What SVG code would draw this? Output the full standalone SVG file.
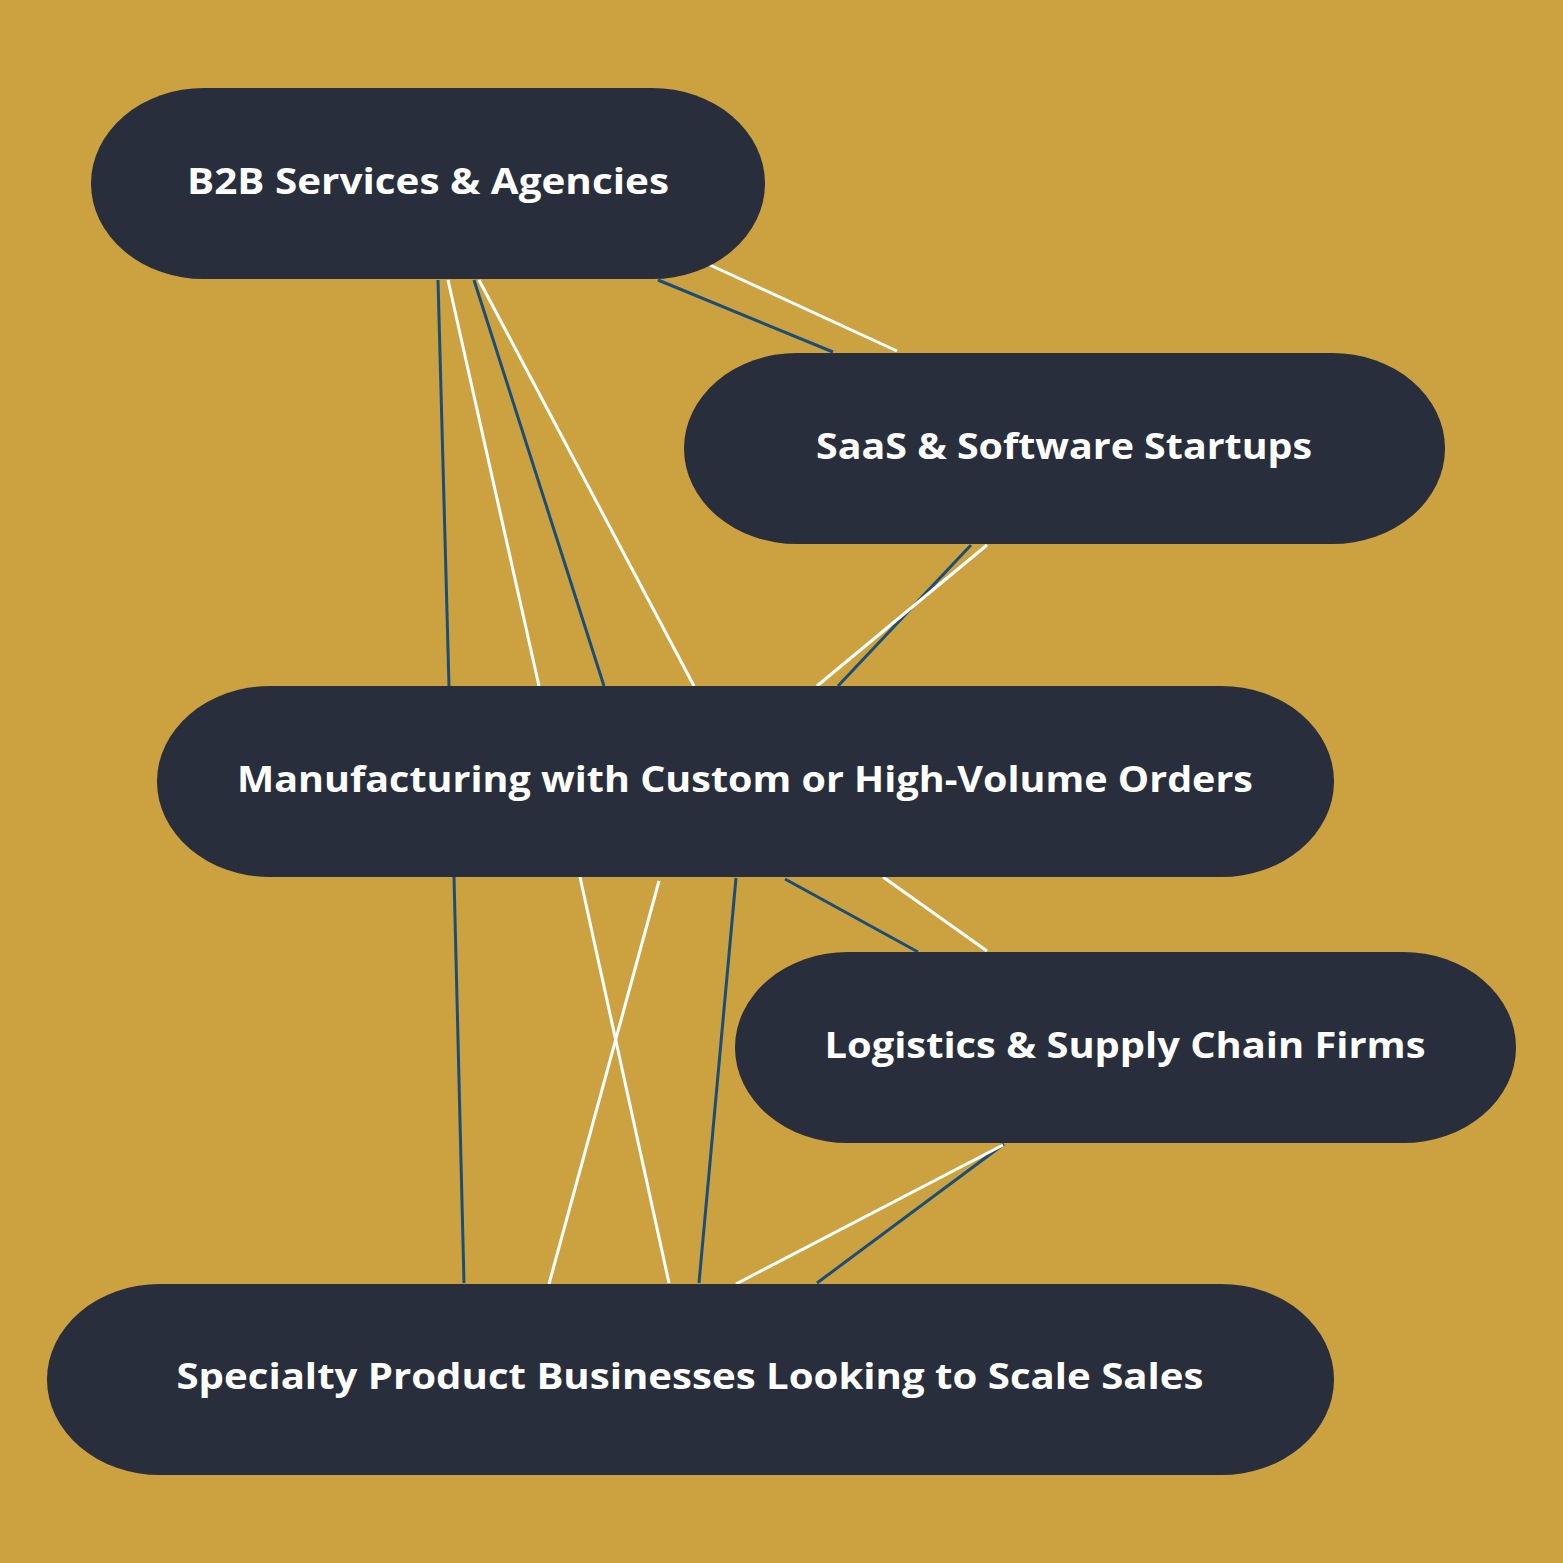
<svg xmlns="http://www.w3.org/2000/svg" width="1563" height="1563" viewBox="0 0 1563 1563">
<style>
.bg{fill:#CCA240}
.node rect{fill:#282E3B}
.node text{fill:#FFFFFF;font-family:"Open Sans","Liberation Sans",sans-serif;font-weight:700;font-size:35px;text-anchor:middle}
.blue{stroke:#1A4E78;stroke-width:3;fill:none}
.white{stroke:#FFFFFF;stroke-width:3;fill:none}
</style>
<rect class="bg" x="0" y="0" width="1563" height="1563"/>
<g id="connectors">
<line class="blue" x1="658" y1="280" x2="833" y2="352"/>
<line class="white" x1="710" y1="265" x2="897" y2="351"/>
<line class="blue" x1="438" y1="280" x2="449" y2="686"/>
<line class="white" x1="448" y1="280" x2="539" y2="686"/>
<line class="blue" x1="474" y1="280" x2="604" y2="686"/>
<line class="white" x1="479" y1="280" x2="694" y2="686"/>
<line class="blue" x1="971" y1="545" x2="838" y2="686"/>
<line class="white" x1="987" y1="545" x2="817" y2="686"/>
<line class="blue" x1="785" y1="879" x2="918" y2="952"/>
<line class="white" x1="883" y1="877" x2="987" y2="951"/>
<line class="blue" x1="454" y1="877" x2="464" y2="1283"/>
<line class="white" x1="580" y1="877" x2="669" y2="1283"/>
<line class="white" x1="659" y1="881" x2="549" y2="1284"/>
<line class="blue" x1="736" y1="878" x2="699" y2="1283"/>
<line class="blue" x1="1004" y1="1144" x2="817" y2="1283"/>
<line class="white" x1="1003" y1="1145" x2="736" y2="1284"/>
</g>
<g id="node-b2b" class="node">
<rect x="91" y="88" width="674" height="191" rx="113" ry="95.5"/>
<text x="428" y="194" textLength="482" lengthAdjust="spacingAndGlyphs">B2B Services &amp; Agencies</text>
</g>
<g id="node-saas" class="node">
<rect x="684" y="353" width="761" height="191" rx="113" ry="95.5"/>
<text x="1064" y="459" textLength="496" lengthAdjust="spacingAndGlyphs">SaaS &amp; Software Startups</text>
</g>
<g id="node-manufacturing" class="node">
<rect x="157" y="686" width="1177" height="191" rx="113" ry="95.5"/>
<text x="745" y="792" textLength="1016" lengthAdjust="spacingAndGlyphs">Manufacturing with Custom or High-Volume Orders</text>
</g>
<g id="node-logistics" class="node">
<rect x="735" y="952" width="781" height="191" rx="113" ry="95.5"/>
<text x="1125" y="1058" textLength="601" lengthAdjust="spacingAndGlyphs">Logistics &amp; Supply Chain Firms</text>
</g>
<g id="node-specialty" class="node">
<rect x="47" y="1284" width="1287" height="191" rx="113" ry="95.5"/>
<text x="690" y="1389" textLength="1027" lengthAdjust="spacingAndGlyphs">Specialty Product Businesses Looking to Scale Sales</text>
</g>
</svg>
